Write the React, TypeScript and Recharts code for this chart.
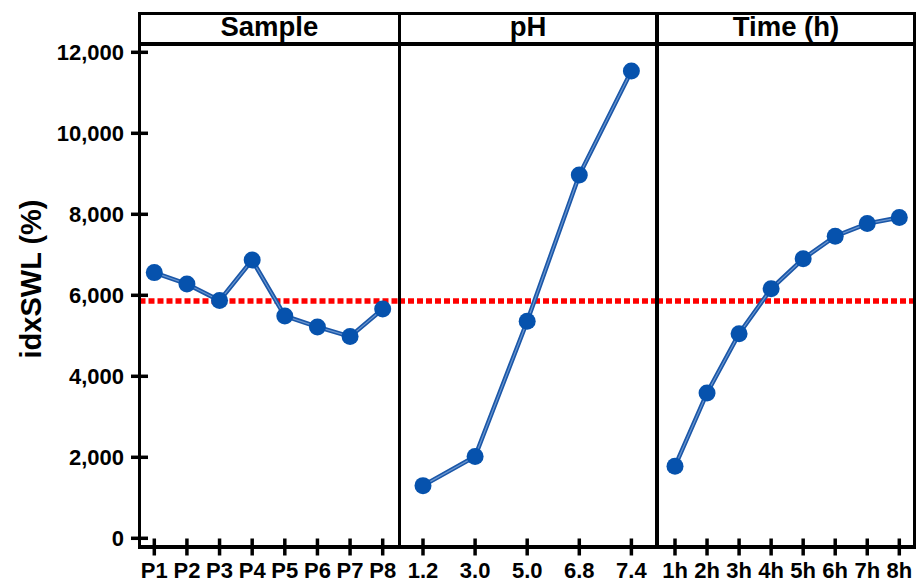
import { Line, LineChart, ReferenceLine, XAxis, YAxis } from 'recharts'

const sampleLabels = ['P1', 'P2', 'P3', 'P4', 'P5', 'P6', 'P7', 'P8']
const sampleValues = [6560, 6280, 5870, 6870, 5490, 5220, 4980, 5660]
const phLabels = ['1.2', '3.0', '5.0', '6.8', '7.4']
const phValues = [1300, 2020, 5360, 8970, 11540]
const timeLabels = ['1h', '2h', '3h', '4h', '5h', '6h', '7h', '8h']
const timeValues = [1780, 3590, 5050, 6160, 6900, 7460, 7770, 7920]
const yTicks = [0, 2000, 4000, 6000, 8000, 10000, 12000]
const meanValue = 5860
const yTitle = 'idxSWL (%)'

const FONT = "'Liberation Sans', Arial, Helvetica, sans-serif"
const Y_DOMAIN: [number, number] = [-215, 12205]
const CHART_H = 583
const PLOT_TOP = 44
const X_AXIS_H = 36
const Y_AXIS_W = 139.5

const LINE_DARK = '#1b57a8'
const LINE_LIGHT = '#6a96d0'
const DOT = '#0652ad'

interface Panel {
  title: string
  labels: string[]
  values: number[]
  left: number
  width: number
  padLeft: number
  padRight: number
  withYAxis: boolean
}

const panels: Panel[] = [
  { title: 'Sample', labels: sampleLabels, values: sampleValues, left: 0, width: 399.3, padLeft: 14.8, padRight: 16.6, withYAxis: true },
  { title: 'pH', labels: phLabels, values: phValues, left: 399.3, width: 257.7, padLeft: 24, padRight: 25.3, withYAxis: false },
  { title: 'Time (h)', labels: timeLabels, values: timeValues, left: 657, width: 258, padLeft: 18, padRight: 15.7, withYAxis: false },
]

function XTick({ x, y, payload }: any) {
  return (
    <g>
      <line x1={x} x2={x} y1={y - 8.5} y2={y + 8.5} stroke="#000" strokeWidth={3.5} />
      <text x={x} y={y + 31} textAnchor="middle" fontFamily={FONT} fontWeight="bold" fontSize={22} fill="#000">
        {payload.value}
      </text>
    </g>
  )
}

function YTick({ x, y, payload }: any) {
  return (
    <g>
      <line x1={x - 8.5} x2={x + 8.5} y1={y} y2={y} stroke="#000" strokeWidth={3.5} />
      <text x={x - 15.5} y={y} dy="0.36em" textAnchor="end" fontFamily={FONT} fontWeight="bold" fontSize={22} fill="#000">
        {Number(payload.value).toLocaleString('en-US')}
      </text>
    </g>
  )
}

function PanelChart({ panel }: { panel: Panel }) {
  const data = panel.labels.map((label, i) => ({ label, value: panel.values[i] }))
  return (
    <div style={{ position: 'absolute', left: panel.left, top: 0 }}>
      <LineChart
        width={panel.width}
        height={CHART_H}
        data={data}
        margin={{ top: PLOT_TOP, right: 0, bottom: 0, left: 0 }}
        accessibilityLayer={false}
      >
        <XAxis
          dataKey="label"
          type="category"
          interval={0}
          height={X_AXIS_H}
          padding={{ left: panel.padLeft, right: panel.padRight }}
          axisLine={false}
          tickLine={false}
          tickSize={0}
          tickMargin={0}
          tick={<XTick />}
        />
        <YAxis
          hide={!panel.withYAxis}
          width={Y_AXIS_W}
          domain={Y_DOMAIN}
          ticks={yTicks}
          type="number"
          axisLine={false}
          tickLine={false}
          tickSize={0}
          tickMargin={0}
          tick={<YTick />}
        />
        <ReferenceLine y={meanValue} stroke="#ff0000" strokeWidth={5.5} strokeDasharray="6 3" />
        <Line
          type="linear"
          dataKey="value"
          stroke={LINE_DARK}
          strokeWidth={4.5}
          dot={false}
          activeDot={false}
          isAnimationActive={false}
        />
        <Line
          type="linear"
          dataKey="value"
          stroke={LINE_LIGHT}
          strokeWidth={1.2}
          dot={{ r: 8.5, fill: DOT, stroke: DOT, strokeWidth: 0 }}
          activeDot={false}
          isAnimationActive={false}
        />
      </LineChart>
    </div>
  )
}

// frame rules: header strip, panel dividers, x baseline
const frameRules = [
  { left: 138, top: 12, width: 3, height: 537 },
  { left: 397.8, top: 12, width: 3, height: 537 },
  { left: 655, top: 12, width: 4, height: 537 },
  { left: 913, top: 12, width: 3, height: 537 },
  { left: 138, top: 12, width: 778, height: 3.3 },
  { left: 138, top: 42, width: 778, height: 4 },
  { left: 138, top: 545, width: 778, height: 4 },
]

export default function App() {
  return (
    <div
      style={{
        position: 'absolute',
        left: 0,
        top: 0,
        width: 916,
        height: 583,
        background: '#fff',
        overflow: 'hidden',
        fontFamily: FONT,
      }}
    >
      {panels.map((p) => (
        <PanelChart key={p.title} panel={p} />
      ))}
      {frameRules.map((r, i) => (
        <div key={i} style={{ position: 'absolute', background: '#000', ...r }} />
      ))}
      {panels.map((p) => {
        const left = p.withYAxis ? p.left + Y_AXIS_W : p.left
        const right = p.left + p.width
        return (
          <div
            key={p.title}
            style={{
              position: 'absolute',
              left,
              width: right - left,
              top: 12,
              height: 29,
              lineHeight: '29px',
              textAlign: 'center',
              fontWeight: 'bold',
              fontSize: 27.5,
              color: '#000',
            }}
          >
            {p.title}
          </div>
        )
      })}
      <div
        style={{
          position: 'absolute',
          left: 31 - 150,
          top: 279 - 18,
          width: 300,
          height: 36,
          lineHeight: '36px',
          textAlign: 'center',
          fontWeight: 'bold',
          fontSize: 29,
          color: '#000',
          transform: 'rotate(-90deg)',
        }}
      >
        {yTitle}
      </div>
    </div>
  )
}
